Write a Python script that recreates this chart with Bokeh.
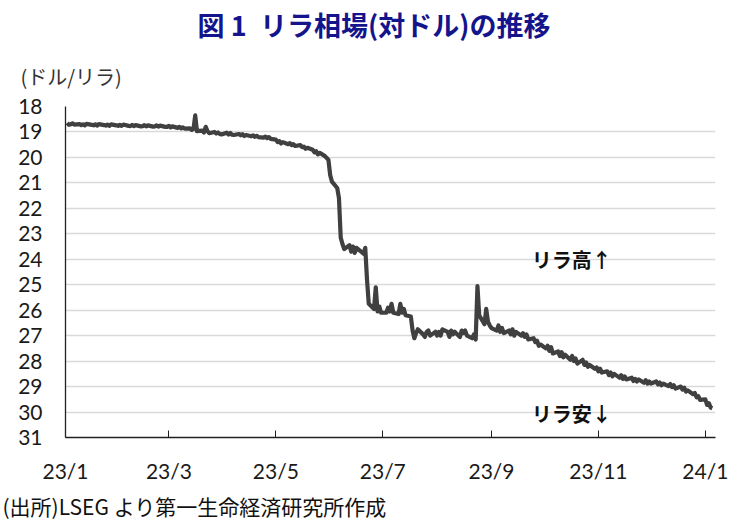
import datetime as dt
from bokeh.plotting import figure
from bokeh.models import Range1d, FixedTicker, Label, Title
from bokeh.embed import file_html
from bokeh.resources import INLINE

# ---- data: USD/TRY (lira per dollar), business days ----
jan23 = [18.64, 18.72, 18.70, 18.66, 18.71, 18.69, 18.73, 18.70, 18.74, 18.68, 18.72,
         18.74, 18.70, 18.75, 18.69, 18.73, 18.75, 18.71, 18.76, 18.70, 18.74, 18.76]
feb23 = [18.72, 18.76, 18.71, 18.76, 18.77, 18.72, 18.77, 18.73, 18.78, 18.77,
         18.73, 18.78, 18.74, 18.79, 18.78, 18.74, 18.79, 18.75, 18.80, 18.80]
mar23 = [18.76, 18.82, 18.78, 18.84, 18.80, 18.86, 18.82, 18.87, 18.86, 18.92, 18.88, 18.35,
         18.97, 18.95, 19.02, 18.80, 18.97, 19.05, 19.00, 19.06, 19.02, 19.08, 19.10]
apr23 = [19.03, 19.10, 19.04, 19.11, 19.12, 19.08, 19.13, 19.09, 19.16, 19.12,
         19.17, 19.13, 19.19, 19.15, 19.20, 19.22, 19.18, 19.24, 19.20, 19.27]
may23 = [19.30, 19.40, 19.36, 19.45, 19.40, 19.48, 19.44, 19.52, 19.48, 19.55, 19.52, 19.60,
         19.58, 19.66, 19.62, 19.70, 19.80, 19.76, 19.88, 19.82, 19.95, 20.02, 20.10]
jun23 = [20.70, 20.95, 21.20, 21.60, 23.15, 23.40, 23.60, 23.45, 23.70, 23.50, 23.75,
         23.55, 23.72, 23.78, 23.55, 24.80, 25.75, 25.95, 25.10, 26.05, 25.85, 26.10]
jul23 = [26.10, 25.90, 26.05, 25.75, 26.10, 26.15, 25.75, 26.10, 25.95, 26.20, 26.25,
         26.80, 27.10, 26.90, 26.75, 26.95, 27.05, 26.85, 26.80, 27.00, 26.85]
aug23 = [27.00, 26.85, 27.00, 26.75, 26.85, 27.05, 26.80, 26.95, 26.85, 27.05, 26.80, 26.90,
         26.80, 27.00, 27.10, 26.95, 27.15, 25.05, 26.20, 26.55, 25.95, 26.45, 26.60]
sep23 = [26.70, 26.80, 26.60, 26.85, 26.70, 26.90, 26.80, 26.95, 26.75, 27.00, 26.85,
         27.00, 26.90, 27.05, 26.95, 27.15, 27.10, 27.25, 27.20, 27.40, 27.35]
oct23 = [27.50, 27.40, 27.60, 27.45, 27.70, 27.62, 27.80, 27.65, 27.85, 27.75, 27.95,
         27.80, 28.00, 27.90, 28.10, 27.95, 28.15, 28.05, 28.22, 28.15, 28.30, 28.25]
nov23 = [28.40, 28.30, 28.45, 28.40, 28.55, 28.45, 28.60, 28.50, 28.65, 28.55, 28.70,
         28.60, 28.72, 28.65, 28.78, 28.70, 28.80, 28.72, 28.85, 28.75, 28.88, 28.80]
dec23 = [28.88, 28.80, 28.92, 28.84, 28.95, 28.88, 28.98, 28.90, 29.02, 28.95, 29.08,
         29.00, 29.12, 29.05, 29.20, 29.15, 29.30, 29.25, 29.42, 29.38, 29.52]
jan24 = [29.50, 29.72, 29.65, 29.82, 29.85]

months = [(2023, 1, jan23), (2023, 2, feb23), (2023, 3, mar23), (2023, 4, apr23),
          (2023, 5, may23), (2023, 6, jun23), (2023, 7, jul23), (2023, 8, aug23),
          (2023, 9, sep23), (2023, 10, oct23), (2023, 11, nov23), (2023, 12, dec23),
          (2024, 1, jan24)]

tick_dates = ["2023-01-01", "2023-03-01", "2023-05-01", "2023-07-01",
              "2023-09-01", "2023-11-01", "2024-01-01"]
tick_labels = ["23/1", "23/3", "23/5", "23/7", "23/9", "23/11", "24/1"]
y_ticks = list(range(18, 32))

origin = dt.date(2023, 1, 1)

def day_num(d):
    return (d - origin).days

xs, ys = [], []
for yy, mm, vals in months:
    d = dt.date(yy, mm, 1)
    days = []
    while len(days) < len(vals):
        if d.weekday() < 5:
            days.append(d)
        d += dt.timedelta(days=1)
    xs += [day_num(v) for v in days]
    ys += vals

tick_x = [day_num(dt.date.fromisoformat(t)) for t in tick_dates]

CJK = "Noto Sans CJK JP"
NUM = "Lato"

p = figure(width=737, height=525, output_backend="svg", toolbar_location=None,
           x_range=Range1d(0, 370.8), y_range=Range1d(31, 18),
           min_border_left=65, min_border_right=22, min_border_top=106,
           min_border_bottom=88)
p.outline_line_color = None
p.background_fill_color = "white"
p.border_fill_color = "white"

p.line(xs, ys, line_color="#404040", line_width=4.2, line_join="round")

# axes
p.yaxis.ticker = FixedTicker(ticks=y_ticks)
p.yaxis.major_tick_in = 0
p.yaxis.major_tick_out = 0
p.yaxis.minor_tick_line_color = None
p.yaxis.axis_line_color = "#202020"
p.yaxis.axis_line_width = 1.3
p.yaxis.major_label_standoff = 23
p.yaxis.major_label_text_font = NUM
p.yaxis.major_label_text_font_size = "21px"
p.yaxis.major_label_text_color = "#1a1a1a"

p.xaxis.ticker = FixedTicker(ticks=tick_x)
p.xaxis.major_label_overrides = {t: l for t, l in zip(tick_x, tick_labels)}
p.xaxis.major_tick_in = 7
p.xaxis.major_tick_out = 0
p.xaxis.major_tick_line_color = "#202020"
p.xaxis.minor_tick_line_color = None
p.xaxis.axis_line_color = "#202020"
p.xaxis.axis_line_width = 1.3
p.xaxis.major_label_standoff = 20
p.xaxis.major_label_text_font = NUM
p.xaxis.major_label_text_font_size = "21px"
p.xaxis.major_label_text_color = "#1a1a1a"

p.xgrid.grid_line_color = None
p.ygrid.grid_line_color = "#d9d9d9"
p.ygrid.grid_line_width = 1.6

# texts inside the frame (data units: x = days since 2023-01-01, y = lira)
p.add_layout(Label(x=266, y=24.0, text="リラ高↑",
                   text_font=CJK, text_font_size="20px", text_font_style="bold",
                   text_color="#111111", text_align="left", text_baseline="middle"))
p.add_layout(Label(x=266, y=30.06, text="リラ安↓",
                   text_font=CJK, text_font_size="20px", text_font_style="bold",
                   text_color="#111111", text_align="left", text_baseline="middle"))

# texts outside the frame as titles
p.add_layout(Title(text="(ドル/リラ)", align="left", offset=-45, standoff=32,
                   text_font=CJK, text_font_size="20px", text_font_style="normal",
                   text_color="#333333"), "above")
p.add_layout(Title(text="図 1\u2002リラ相場(対ドル)の推移", align="left", offset=132,
                   standoff=0, text_font=CJK, text_font_size="27px",
                   text_font_style="bold", text_color="#14148c"), "above")
p.add_layout(Title(text="(出所)LSEG より第一生命経済研究所作成", align="left", offset=-63,
                   standoff=6, text_font=CJK, text_font_size="21px",
                   text_font_style="normal", text_color="#111111"), "below")

open("out.html", "w").write(file_html(p, INLINE))
